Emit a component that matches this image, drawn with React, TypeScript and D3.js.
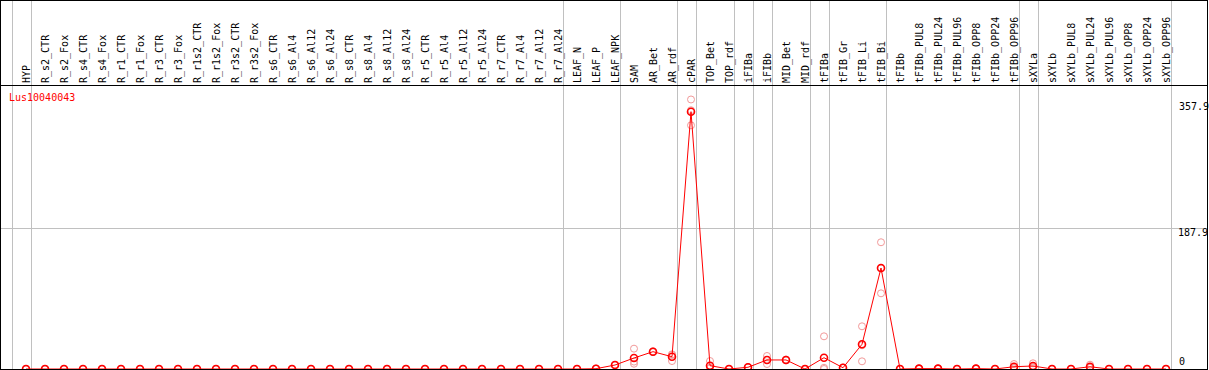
import React from "react";
import * as d3 from "d3";

const categories = [
  "HYP", "R_s2_CTR", "R_s2_Fox", "R_s4_CTR", "R_s4_Fox", "R_r1_CTR", "R_r1_Fox", "R_r3_CTR", "R_r3_Fox",
  "R_r1s2_CTR", "R_r1s2_Fox", "R_r3s2_CTR", "R_r3s2_Fox", "R_s6_CTR", "R_s6_Al4", "R_s6_Al12", "R_s6_Al24",
  "R_s8_CTR", "R_s8_Al4", "R_s8_Al12", "R_s8_Al24", "R_r5_CTR", "R_r5_Al4", "R_r5_Al12", "R_r5_Al24",
  "R_r7_CTR", "R_r7_Al4", "R_r7_Al12", "R_r7_Al24", "LEAF_N", "LEAF_P", "LEAF_NPK", "SAM", "AR_Bet", "AR_rdf",
  "cPAR", "TOP_Bet", "TOP_rdf", "iFIBa", "iFIBb", "MID_Bet", "MID_rdf", "tFIBa", "tFIB_Gr", "tFIB_Li", "tFIB_Bi",
  "tFIBb", "tFIBb_PUL8", "tFIBb_PUL24", "tFIBb_PUL96", "tFIBb_OPP8", "tFIBb_OPP24", "tFIBb_OPP96",
  "sXYLa", "sXYLb", "sXYLb_PUL8", "sXYLb_PUL24", "sXYLb_PUL96", "sXYLb_OPP8", "sXYLb_OPP24", "sXYLb_OPP96",
];

// group boundaries: vertical grid line drawn after these category indices (-1 = before first)
const groupEnds = [-1, 0, 28, 31, 34, 35, 37, 38, 39, 41, 42, 45, 52, 53, 60];

const zeros29 = new Array(29).fill(0);

const means = [
  ...zeros29, 0, 0.4, 5.3, 14.6, 23, 16.3, 341.7, 4.4, 0, 2.3, 12, 12, 0, 15, 1.7, 32.8, 134.1,
  0, 0.5, 0.5, 0, 0.5, 0, 3, 4, 0, 0, 3, 0, 0, 0, 0,
];
const rep1 = [
  ...zeros29, 0, 0.4, 5.5, 27, 22.5, 19.5, 357.9, 10.6, 0, 2.0, 17.3, 12.5, 0, 43.4, 1.7, 56.7, 168.3,
  0, 0.5, 0.5, 0, 0.5, 0, 6.6, 7.6, 0, 0, 5.7, 0, 0, 0, 0,
];
const rep2 = [
  ...zeros29, 0, 0.4, 5.1, 7, 23, 10.6, 323.6, 1.3, 0, 2.5, 6.6, 11.5, 0, 0, 1.7, 10.2, 100.5,
  0, 0.5, 0.5, 0, 0.5, 0, 1.2, 2.2, 0, 0, 1.7, 0, 0, 0, 0,
];
const rep3 = [
  ...zeros29, 0, 0.4, 5.3, 9.8, 23.5, 18.8, 343.6, 1.3, 0, 2.4, 12.1, 12, 0, 1.6, 1.7, 31.5, 133.5,
  0, 0.5, 0.5, 0, 0.5, 0, 1.2, 2.2, 0, 0, 1.6, 0, 0, 0, 0,
];

const geneName = "Lus10040043";

export default function App() {
  const W = 1209;
  const H = 370;
  const headerY = 85;
  const plotTop = 86;
  const plotBottom = 369;
  const right = 1207.5;

  const maxVal = d3.max([...rep1, ...rep2, ...rep3, ...means]) as number;
  const yMaxDomain = maxVal * 1.05;
  const midVal = yMaxDomain / 2;

  const x = d3.scalePoint<string>().domain(categories).range([26, 26 + 19 * (categories.length - 1)]);
  const y = d3.scaleLinear().domain([0, yMaxDomain]).range([plotBottom, plotTop]);
  const step = x.step();

  const gridXs = groupEnds.map((i) => (i < 0 ? (x(categories[0]) as number) - step : (x(categories[i]) as number)) + 4.5);

  const line = d3
    .line<number>()
    .x((_, i) => x(categories[i]) as number)
    .y((d) => y(d));

  const reps = [rep1, rep2, rep3];
  const font = "'DejaVu Sans Mono', monospace";
  const fmt = d3.format(".1f");

  return (
    <svg width={W} height={H} style={{ position: "absolute", left: 0, top: 0, background: "#fff" }}>
      <rect x={0} y={0} width={W} height={H} fill="#fff" />
      {gridXs.map((gx, i) => (
        <line key={"gx" + i} x1={Math.round(gx) + 0.5} x2={Math.round(gx) + 0.5} y1={0} y2={plotBottom} stroke="#c0c0c0" strokeWidth={1} />
      ))}
      <line x1={0} x2={right} y1={Math.round(y(midVal)) + 0.5} y2={Math.round(y(midVal)) + 0.5} stroke="#c0c0c0" strokeWidth={1} />

      {categories.map((c) => (
        <text
          key={c}
          transform={`translate(${(x(c) as number) + 4},83) rotate(-90)`}
          fontFamily={font}
          fontSize={10}
          fill="#000"
        >
          {c}
        </text>
      ))}

      <text x={9} y={101} fontFamily={font} fontSize={10} fill="#ff0000">
        {geneName}
      </text>

      <text x={1179} y={y(maxVal) + 11} fontFamily={font} fontSize={10} fill="#000">{fmt(maxVal)}</text>
      <text x={1178} y={y(midVal) + 8.5} fontFamily={font} fontSize={10} fill="#000">{fmt(midVal)}</text>
      <text x={1179} y={365} fontFamily={font} fontSize={10} fill="#000">0</text>

      {reps.map((r, k) =>
        r.map((v, i) => (
          <circle key={`r${k}-${i}`} cx={x(categories[i]) as number} cy={y(v)} r={3.5} fill="none" stroke="#f29a9a" strokeWidth={1} />
        ))
      )}
      <path d={line(means) || ""} fill="none" stroke="#ff0000" strokeWidth={1} />
      {means.map((v, i) => (
        <circle key={"m" + i} cx={x(categories[i]) as number} cy={y(v)} r={3.5} fill="none" stroke="#ff0000" strokeWidth={1.6} />
      ))}

      <line x1={0} x2={right} y1={headerY + 0.5} y2={headerY + 0.5} stroke="#000" strokeWidth={1} />
      <rect x={0.5} y={0.5} width={right - 0.5} height={plotBottom} fill="none" stroke="#000" strokeWidth={1} />
    </svg>
  );
}
